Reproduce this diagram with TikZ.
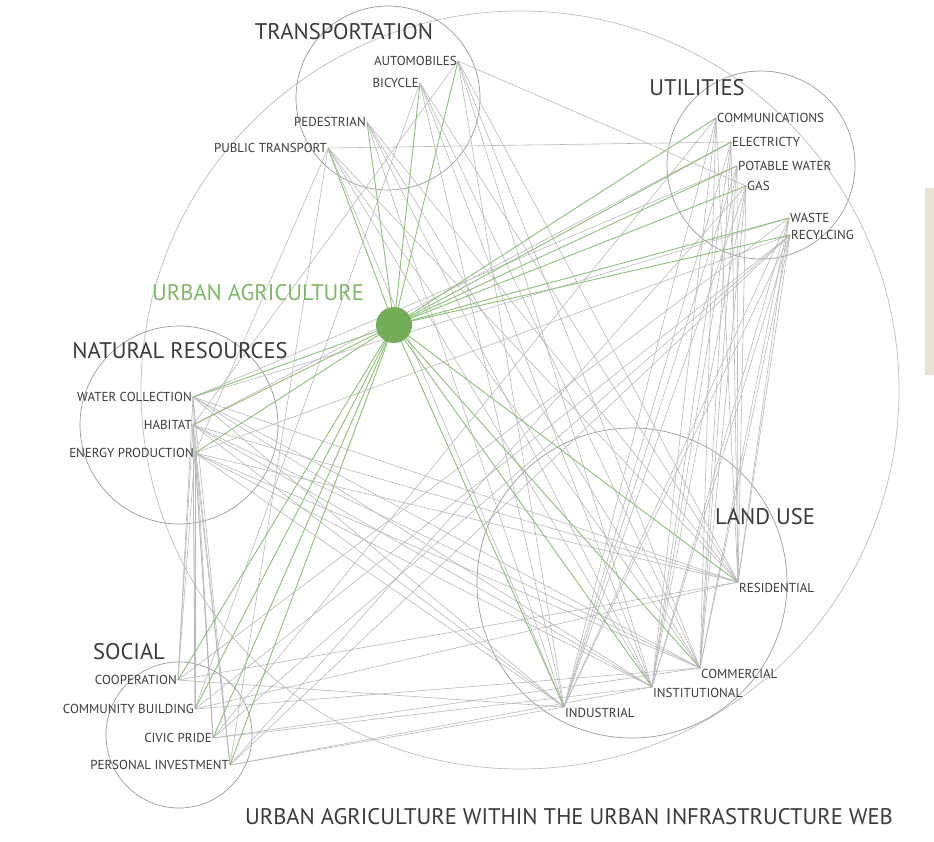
\documentclass[tikz,border=0pt]{standalone}
\usepackage{fontspec}
\setmainfont{PT Sans}
\usepackage{tikz}
\definecolor{webgrey}{HTML}{B8B8B8}
\definecolor{ringgrey}{HTML}{9A9A9A}
\definecolor{biggrey}{HTML}{BDBDBD}
\definecolor{aggreen}{HTML}{8CC077}
\definecolor{agdot}{HTML}{73AD58}
\definecolor{agtext}{HTML}{7DB866}
\definecolor{labgrey}{HTML}{3A3A3A}
\definecolor{sand}{HTML}{EAE2D4}

\begin{document}
\begin{tikzpicture}[
  x=1pt, y=-1pt,
  vtx/.style={coordinate},
  ring/.style={draw=ringgrey, line width=0.7pt},
  web/.style={draw=webgrey, line width=0.6pt},
  agline/.style={draw=aggreen, line width=0.9pt},
  item/.style={font=\fontsize{13}{15}\selectfont, text=labgrey, inner sep=1pt},
  head/.style={font=\fontsize{22.6}{26}\selectfont, text=labgrey, inner sep=0pt}
]
  \useasboundingbox (0,0) rectangle (934,842);
  \fill[sand] (925,188) rectangle (934,375);
  \draw[biggrey, line width=0.7pt] (520,390) circle[radius=379];
  \draw[ring] (388,98) circle[radius=92];
  \draw[ring] (761,165) circle[radius=94];
  \draw[ring] (179,425) circle[radius=99];
  \draw[ring] (632,583) circle[radius=155];
  \draw[ring] (179,735) circle[radius=73];
  \foreach \nm/\px/\py in {auto/458/61,bike/420/83,ped/367/122,pubt/328/148,
    comm/716/118,elec/731/142,water/737/166,gas/746/186,waste/789/218,recyc/790/235,
    wcol/193/397,hab/193/425,enrg/195/453,
    res/738/582,com/700/668,inst/652/687,ind/564/707,
    coop/178/680,cbld/195/709,civ/213/738,pinv/230/765} {
    \node[vtx] (\nm) at (\px,\py){};
  }
  \node[vtx] (ua) at (394,325){};
  \foreach \a in {auto,bike,ped,pubt,comm,elec,water,gas,waste,recyc,wcol,hab,enrg} {
    \foreach \b in {res,com,inst,ind} {
      \draw[web] (\a)--(\b);
    }
  }
  \foreach \a in {wcol,hab,enrg} {
    \foreach \b in {coop,cbld,civ,pinv} {
      \draw[web] (\a)--(\b);
    }
  }
  \foreach \a/\b in {coop/res,cbld/res,cbld/com,civ/inst,civ/com,pinv/ind,pinv/inst,coop/ind,
    auto/gas,pubt/elec,auto/hab,pubt/enrg,pubt/pinv,bike/cbld,
    water/wcol,elec/hab,recyc/enrg,waste/wcol,
    waste/coop,recyc/cbld,recyc/civ,gas/pinv,comm/civ,recyc/pinv} {
    \draw[web] (\a)--(\b);
  }
  \foreach \a in {auto,bike,ped,pubt,comm,elec,water,gas,waste,recyc,wcol,hab,enrg,
    res,com,inst,ind,coop,cbld,civ,pinv} {
    \draw[agline] (ua)--(\a);
  }
  \node[circle, fill=agdot, minimum size=36pt, inner sep=0pt] (uadot) at (ua){};
  \node[item, left] (auto-l) at (auto){AUTOMOBILES};
  \node[item, left] (bike-l) at (bike){BICYCLE};
  \node[item, left] (ped-l) at (ped){PEDESTRIAN};
  \node[item, left] (pubt-l) at (pubt){PUBLIC TRANSPORT};
  \node[item, right] (comm-l) at (comm){COMMUNICATIONS};
  \node[item, right] (elec-l) at (elec){ELECTRICTY};
  \node[item, right] (water-l) at (water){POTABLE WATER};
  \node[item, right] (gas-l) at (gas){GAS};
  \node[item, right] (waste-l) at (waste){WASTE};
  \node[item, right] (recyc-l) at (recyc){RECYLCING};
  \node[item, left] (wcol-l) at (wcol){WATER COLLECTION};
  \node[item, left] (hab-l) at (hab){HABITAT};
  \node[item, left] (enrg-l) at (enrg){ENERGY PRODUCTION};
  \node[item, anchor=north west] (res-l) at (res){RESIDENTIAL};
  \node[item, anchor=north west] (com-l) at (com){COMMERCIAL};
  \node[item, anchor=north west] (inst-l) at (inst){INSTITUTIONAL};
  \node[item, anchor=north west] (ind-l) at (ind){INDUSTRIAL};
  \node[item, left] (coop-l) at (coop){COOPERATION};
  \node[item, left] (cbld-l) at (cbld){COMMUNITY BUILDING};
  \node[item, left] (civ-l) at (civ){CIVIC PRIDE};
  \node[item, left] (pinv-l) at (pinv){PERSONAL INVESTMENT};
  \node[head] (trans-h) at (344,32){TRANSPORTATION};
  \node[head] (util-h) at (697,88){UTILITIES};
  \node[head, text=agtext] (ua-h) at (258,293){URBAN AGRICULTURE};
  \node[head] (nat-h) at (180,351){NATURAL RESOURCES};
  \node[head] (land-h) at (765,517){LAND USE};
  \node[head] (soc-h) at (129,652){SOCIAL};
  \node[head] (title) at (569,817){URBAN AGRICULTURE WITHIN THE URBAN INFRASTRUCTURE WEB};
\end{tikzpicture}
\end{document}
